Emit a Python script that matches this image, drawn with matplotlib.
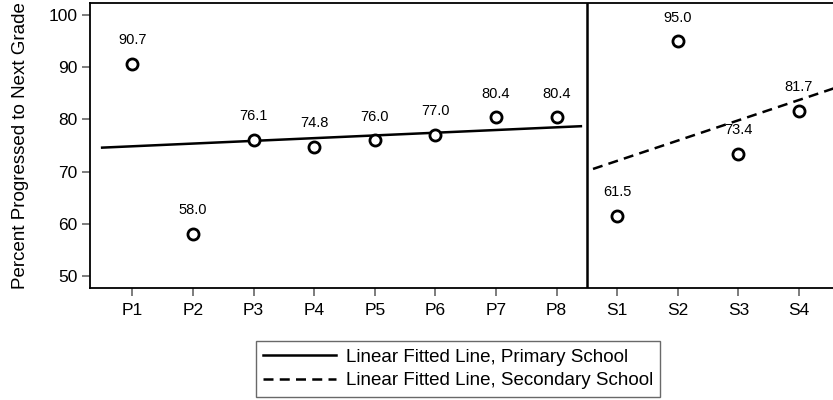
import numpy as np
import matplotlib
matplotlib.use("Agg")
import matplotlib.pyplot as plt
from matplotlib.lines import Line2D

plt.rcParams['font.family'] = ['Liberation Sans', 'DejaVu Sans']

grades = ["P1", "P2", "P3", "P4", "P5", "P6", "P7", "P8", "S1", "S2", "S3", "S4"]
primary = [90.7, 58.0, 76.1, 74.8, 76.0, 77.0, 80.4, 80.4]
secondary = [61.5, 95.0, 73.4, 81.7]

x_pri = np.arange(1, 9)
x_sec = np.arange(9, 13)
values = primary + secondary
x_all = np.arange(1, 13)

fig = plt.figure(figsize=(8.33, 4.0), dpi=100)
ax = fig.add_axes([90/833, 1 - 288/400, 1 - 90/833, 285/400])

# fitted lines
b1, a1 = np.polyfit(x_pri, primary, 1)
b2, a2 = np.polyfit(x_sec, secondary, 1)
xl1 = np.array([0.5, 8.4])
xl2 = np.array([8.6, 12.7])
ax.plot(xl1, a1 + b1*xl1, color='black', lw=1.8)
ax.plot(xl2, a2 + b2*xl2, color='black', lw=1.8, ls=(0, (4, 2.5)))

ax.axvline(8.5, color='black', lw=1.8)

ax.plot(x_all, values, 'o', ms=8, mfc='white', mec='black', mew=2, zorder=3)
for xi, v in zip(x_all, values):
    ax.annotate(f"{v:.1f}", (xi, v), xytext=(0, 12), textcoords='offset points',
                ha='center', va='bottom', fontsize=10.5)

ax.set_xlim(0.3, 12.56)
ax.set_ylim(47.6, 102.4)
ax.set_xticks(x_all)
ax.set_xticklabels(grades)
ax.set_yticks([50, 60, 70, 80, 90, 100])
ax.tick_params(axis='both', labelsize=12.5, length=6, width=1.2, color='#666666', pad=3)
ax.tick_params(axis='x', pad=5)
ax.spines['right'].set_visible(False)
for s in ['left', 'bottom', 'top']:
    ax.spines[s].set_linewidth(1.3)
ax.set_ylabel("Percent Progressed to Next Grade", fontsize=13.5, labelpad=14)

handles = [Line2D([], [], color='black', lw=1.8),
           Line2D([], [], color='black', lw=1.8, ls=(0, (4, 2.5)))]
leg = fig.legend(handles, ["Linear Fitted Line, Primary School",
                           "Linear Fitted Line, Secondary School"],
                 loc='center', bbox_to_anchor=(458/833, 1 - 369/400),
                 fontsize=13.5, frameon=True, fancybox=False, edgecolor='#444444',
                 handlelength=3.9, handletextpad=0.5, borderpad=0.4, labelspacing=0.35)
leg.get_frame().set_linewidth(1.0)

fig.savefig("out.png", dpi=100)
